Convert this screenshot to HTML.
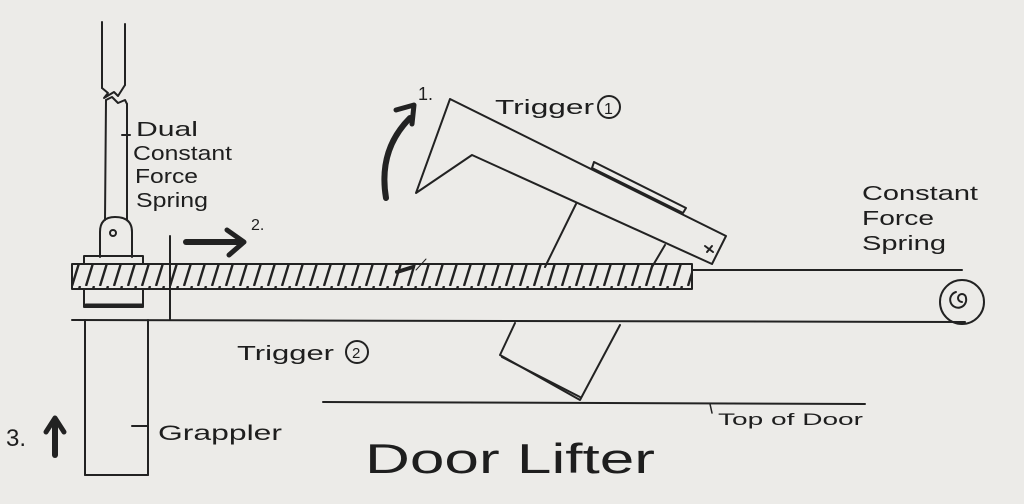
<!DOCTYPE html>
<html><head><meta charset="utf-8"><style>
html,body{margin:0;padding:0;background:#ecebe8;}
svg{display:block}
text{font-family:"Liberation Sans",sans-serif;fill:#1e1e1e}
</style></head><body>
<svg width="1024" height="504" viewBox="0 0 1024 504" xmlns="http://www.w3.org/2000/svg">
<defs>
<pattern id="h" width="14" height="26" patternUnits="userSpaceOnUse">
<line x1="10" y1="0" x2="2" y2="26" stroke="#222" stroke-width="2.4"/>
</pattern>
</defs>
<rect width="1024" height="504" fill="#ecebe8"/>
<g stroke="#222" stroke-width="2" fill="none" stroke-linecap="round" stroke-linejoin="round">
<line x1="102" y1="22" x2="102" y2="88"/>
<line x1="125" y1="24" x2="125" y2="85"/>
<path d="M102 88 L108 93 L104 98 L114 92 L118 96 L125 85"/>
<path d="M106 100 L112 97 L118 103 L125 100 L127 104"/>
<line x1="106" y1="100" x2="105" y2="220"/>
<line x1="127" y1="104" x2="127" y2="220"/>
<line x1="122" y1="135" x2="130" y2="135"/>
<path d="M100 257 L100 232 Q100 217 115 217 Q132 217 132 232 L132 257"/>
<circle cx="113" cy="233" r="3"/>
<rect x="84" y="256" width="59" height="8"/>
<rect x="72" y="264" width="620" height="25" fill="url(#h)"/>
<rect x="84" y="289" width="59" height="18"/>
<line x1="86" y1="305" x2="142" y2="305" stroke-width="3"/>
<line x1="170" y1="236" x2="170" y2="320"/>
<line x1="692" y1="270" x2="962" y2="270"/>
<line x1="72" y1="320" x2="965" y2="322"/>
<circle cx="962" cy="302" r="22"/>
<path d="M962 302 a4 4 0 1 1 4 -4 a8 8 0 1 1 -10 -6"/>
<line x1="85" y1="320" x2="85" y2="475"/>
<line x1="148" y1="320" x2="148" y2="475"/>
<line x1="85" y1="475" x2="148" y2="475"/>
<line x1="132" y1="426" x2="148" y2="426"/>
<path d="M450 99 L726 236 L712 264 L472 155 L416 193 Z"/>
<path d="M594 162 L686 208 L683 213 L592 168 Z"/>
<line x1="576" y1="204" x2="545" y2="267"/>
<line x1="665" y1="245" x2="652" y2="267"/>
<path d="M705 246 l8 6 M707 252 l5 -6"/>
<path d="M426 259 L416 270" stroke-width="1"/>
<path d="M397 272 L413 267" stroke-width="4"/>
<path d="M515 323 L500 355 L580 400 L620 325"/>
<line x1="502" y1="357" x2="580" y2="397"/>
<line x1="323" y1="402" x2="865" y2="404"/>
<line x1="710" y1="404" x2="712" y2="413" stroke-width="1.5"/>
<line x1="186" y1="242" x2="240" y2="242" stroke-width="6"/>
<path d="M227 230 L244 242 L229 255" stroke-width="5"/>
<path d="M386 198 Q378 150 410 118" stroke-width="6"/>
<path d="M396 110 L414 105 L412 124" stroke-width="5"/>
<line x1="55" y1="455" x2="55" y2="425" stroke-width="6"/>
<path d="M46 432 L55 418 L64 432" stroke-width="5"/>
<circle cx="609" cy="107" r="11"/>
<circle cx="357" cy="352" r="11"/>
</g>
<g lengthAdjust="spacingAndGlyphs">
<text x="136" y="136" font-size="20" textLength="62" lengthAdjust="spacingAndGlyphs">Dual</text>
<text x="133" y="160" font-size="20" textLength="99" lengthAdjust="spacingAndGlyphs">Constant</text>
<text x="135" y="183" font-size="20" textLength="63" lengthAdjust="spacingAndGlyphs">Force</text>
<text x="136" y="207" font-size="20" textLength="72" lengthAdjust="spacingAndGlyphs">Spring</text>
<text x="251" y="230" font-size="16">2.</text>
<text x="418" y="100" font-size="18">1.</text>
<text x="495" y="114" font-size="20" textLength="99" lengthAdjust="spacingAndGlyphs">Trigger</text>
<text x="604" y="114" font-size="16">1</text>
<text x="862" y="200" font-size="20" textLength="116" lengthAdjust="spacingAndGlyphs">Constant</text>
<text x="862" y="225" font-size="20" textLength="72" lengthAdjust="spacingAndGlyphs">Force</text>
<text x="862" y="250" font-size="20" textLength="84" lengthAdjust="spacingAndGlyphs">Spring</text>
<text x="237" y="360" font-size="20" textLength="97" lengthAdjust="spacingAndGlyphs">Trigger</text>
<text x="352" y="358" font-size="15">2</text>
<text x="158" y="440" font-size="21" textLength="124" lengthAdjust="spacingAndGlyphs">Grappler</text>
<text x="6" y="446" font-size="24">3.</text>
<text x="718" y="425" font-size="17" textLength="145" lengthAdjust="spacingAndGlyphs">Top of Door</text>
<text x="365" y="473" font-size="42" textLength="290" lengthAdjust="spacingAndGlyphs">Door Lifter</text>
</g>
</svg>
</body></html>
